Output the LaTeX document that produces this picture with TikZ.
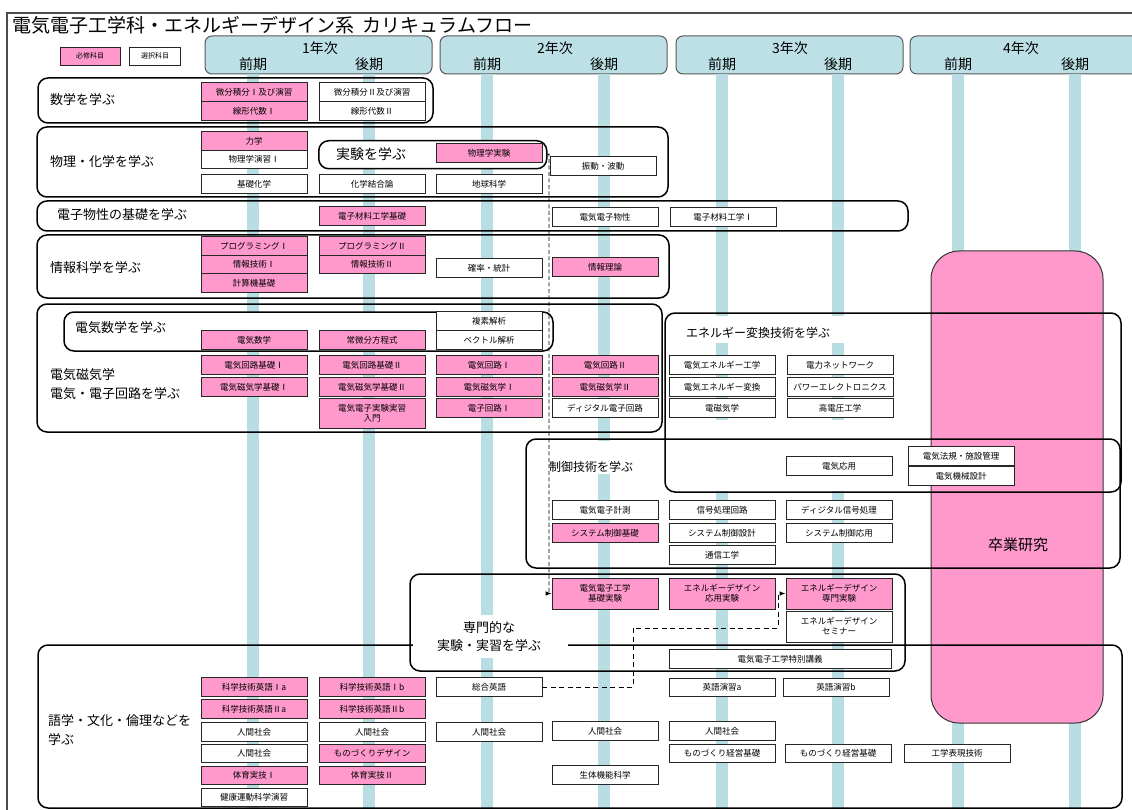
\documentclass[tikz,border=0pt]{standalone}
\usepackage{fontspec}
\setmainfont{Noto Sans CJK JP}
\usetikzlibrary{arrows.meta}
\definecolor{pinkc}{HTML}{FF99CC}
\definecolor{barc}{HTML}{B8DDE2}
\definecolor{headc}{HTML}{BCE0E5}
\begin{document}
\begin{tikzpicture}[x=1pt,y=-1pt,
  course/.style={draw=black!85, line width=0.7pt, minimum width=106pt, minimum height=18.5pt, inner sep=0pt, font=\fontsize{8.5}{10}\selectfont, align=center},
  req/.style={course, fill=pinkc},
  opt/.style={course, fill=white},
  region/.style={draw=black, line width=1.5pt, rounded corners=10pt},
  rlabel/.style={font=\fontsize{13}{19}\selectfont, anchor=west, inner sep=0pt, align=left},
  bar/.style={fill=barc, draw=none},
  head/.style={draw=black!65, fill=headc, line width=1pt, rounded corners=7pt},
  htext/.style={font=\fontsize{14}{16}\selectfont, inner sep=0pt},
  mask/.style={fill=white, draw=none},
  flow/.style={dash pattern=on 4pt off 2.5pt, line width=0.8pt, -{Latex[length=6pt,width=4.5pt]}}
]
\useasboundingbox (0,0) rectangle (1132,810);
\begin{scope}
\clip (0,0) rectangle (1132,810);
% frame and title
\draw[line width=1.2pt, black!70] (7,812) -- (7,13) -- (1134,13);
\node[anchor=west, inner sep=0pt, font=\fontsize{19}{22}\selectfont] (title) at (12,25) {電気電子工学科・エネルギーデザイン系\ \ カリキュラムフロー};
% legend
\node[req, minimum width=60pt, minimum height=18pt, font=\fontsize{7}{8}\selectfont] (lreq) at (90,56) {必修科目};
\node[opt, minimum width=51pt, minimum height=18pt, font=\fontsize{7}{8}\selectfont] (lopt) at (155,56) {選択科目};
% year headers
\draw[head] (205,36) rectangle (432,74);
\draw[head] (440,36) rectangle (667,74);
\draw[head] (676,36) rectangle (903,74);
\draw[head] (910,36) rectangle (1145,74);
\node[htext] (y1) at (320,48) {1年次};
\node[htext] (y2) at (555,48) {2年次};
\node[htext] (y3) at (790,48) {3年次};
\node[htext] (y4) at (1021,48) {4年次};
\node[htext] (s1) at (253,64) {前期};
\node[htext] (s2) at (369,64) {後期};
\node[htext] (s3) at (487,64) {前期};
\node[htext] (s4) at (604,64) {後期};
\node[htext] (s5) at (722,64) {前期};
\node[htext] (s6) at (838,64) {後期};
\node[htext] (s7) at (958,64) {前期};
\node[htext] (s8) at (1075,64) {後期};
% bars
\foreach \c in {253,369,487,604,722,838,958,1075}{
  \fill[bar] (\c-6,74) rectangle (\c+6,808);
}
% graduation research
\draw[fill=pinkc, draw=black!80, line width=1pt, rounded corners=28pt] (931,251) rectangle (1103,723);
\node[font=\fontsize{15}{17}\selectfont, inner sep=0pt] (sotsu) at (1018,545) {卒業研究};
% masks for label areas
\fill[mask] (668,316) rectangle (905,343);
\fill[mask] (667,420) rectangle (905,491);
\fill[mask] (529,441) rectangle (660,474);
% regions
\draw[region] (38,78) rectangle (433,123);
\draw[region] (37,127) rectangle (668,197);
\draw[region] (37,201) rectangle (908,231);
\draw[region] (37,235) rectangle (669,298);
\draw[region] (37,304) rectangle (662,432);
\draw[region, fill=white] (64,312) rectangle (553,351);
\draw[region] (665,313) rectangle (1121,492);
\draw[region] (526,439) rectangle (1120,568);
\draw[region] (38,645) rectangle (1122,808);
\fill[mask] (413,615) rectangle (568,658);
\draw[region] (410,574) rectangle (905,671);
\node[region, fill=white, anchor=north west, minimum width=228pt, minimum height=28pt, inner sep=0pt] (jikkenbox) at (318,140) {};
% region labels
\node[rlabel] (lsugaku) at (50,100) {数学を学ぶ};
\node[rlabel] (lbutsuri) at (50,162) {物理・化学を学ぶ};
\node[rlabel, font=\fontsize{14}{16}\selectfont] (ljikken) at (336,154) {実験を学ぶ};
\node[rlabel] (lbussei) at (57,215) {電子物性の基礎を学ぶ};
\node[rlabel] (ljoho) at (50,268) {情報科学を学ぶ};
\node[rlabel] (ldensu) at (75,328) {電気数学を学ぶ};
\node[rlabel] (ldenki) at (50,384) {電気磁気学\\電気・電子回路を学ぶ};
\node[rlabel, font=\fontsize{12}{14}\selectfont] (lene) at (686,333) {エネルギー変換技術を学ぶ};
\node[rlabel, font=\fontsize{12}{14}\selectfont] (lseigyo) at (549,467) {制御技術を学ぶ};
\node[font=\fontsize{13}{18}\selectfont, inner sep=0pt, align=center] (lsenmon) at (489,637) {専門的な\\実験・実習を学ぶ};
\node[rlabel] (lgogaku) at (48,730) {語学・文化・倫理などを\\学ぶ};
% math
\node[req] (m1) at (254,92) {微分積分Ⅰ及び演習};
\node[opt] (m2) at (372,92) {微分積分Ⅱ及び演習};
\node[req] (m3) at (254,111) {線形代数Ⅰ};
\node[opt] (m4) at (372,111) {線形代数Ⅱ};
% physics
\node[req] (p1) at (254,141) {力学};
\node[opt] (p2) at (254,159.5) {物理学演習Ⅰ};
\node[opt] (p3) at (254,184) {基礎化学};
\node[opt] (p4) at (372,184) {化学結合論};
\node[opt] (p5) at (489,184) {地球科学};
\node[req] (p6) at (489,153) {物理学実験};
\node[opt] (p7) at (603,166) {振動・波動};
% bussei
\node[req] (b1) at (372,216) {電子材料工学基礎};
\node[opt] (b2) at (605,217) {電気電子物性};
\node[opt] (b3) at (723,217) {電子材料工学Ⅰ};
% joho
\node[req] (j1) at (254,246) {プログラミングⅠ};
\node[req] (j2) at (254,264.5) {情報技術Ⅰ};
\node[req] (j3) at (254,283) {計算機基礎};
\node[req] (j4) at (372,246) {プログラミングⅡ};
\node[req] (j5) at (372,264.5) {情報技術Ⅱ};
\node[opt] (j6) at (489,268) {確率・統計};
\node[req] (j7) at (605,267) {情報理論};
% denki math
\node[req] (d1) at (254,340) {電気数学};
\node[req] (d2) at (372,340) {常微分方程式};
\node[opt] (d3) at (489,321) {複素解析};
\node[opt] (d4) at (489,340) {ベクトル解析};
% circuits
\node[req] (c1) at (254,365) {電気回路基礎Ⅰ};
\node[req] (c2) at (254,387) {電気磁気学基礎Ⅰ};
\node[req] (c3) at (372,365) {電気回路基礎Ⅱ};
\node[req] (c4) at (372,387) {電気磁気学基礎Ⅱ};
\node[req, minimum height=30pt] (c5) at (372,413) {電気電子実験実習\\入門};
\node[req] (c6) at (489,365) {電気回路Ⅰ};
\node[req] (c7) at (489,387) {電気磁気学Ⅰ};
\node[req] (c8) at (489,408) {電子回路Ⅰ};
\node[req] (c9) at (605,365) {電気回路Ⅱ};
\node[req] (c10) at (605,387) {電気磁気学Ⅱ};
\node[opt] (c11) at (605,408) {ディジタル電子回路};
% energy
\node[opt] (e1) at (722,365) {電気エネルギー工学};
\node[opt] (e2) at (722,387) {電気エネルギー変換};
\node[opt] (e3) at (722,408) {電磁気学};
\node[opt] (e4) at (840,365) {電力ネットワーク};
\node[opt] (e5) at (840,387) {パワーエレクトロニクス};
\node[opt] (e6) at (840,408) {高電圧工学};
% control
\node[opt] (k1) at (839,466) {電気応用};
\node[opt] (k2) at (961,456) {電気法規・施設管理};
\node[opt] (k3) at (961,476) {電気機械設計};
\node[opt] (k4) at (605,510) {電気電子計測};
\node[req] (k5) at (605,533) {システム制御基礎};
\node[opt] (k6) at (722,510) {信号処理回路};
\node[opt] (k7) at (722,533) {システム制御設計};
\node[opt] (k8) at (722,555) {通信工学};
\node[opt] (k9) at (839,510) {ディジタル信号処理};
\node[opt] (k10) at (839,533) {システム制御応用};
% experiments
\node[req, minimum height=31pt] (x1) at (605,593.5) {電気電子工学\\基礎実験};
\node[req, minimum height=31pt] (x2) at (722,593.5) {エネルギーデザイン\\応用実験};
\node[req, minimum height=31pt] (x3) at (839,593.5) {エネルギーデザイン\\専門実験};
\node[opt, minimum height=31pt] (x4) at (839,626.5) {エネルギーデザイン\\セミナー};
\node[opt, minimum width=222pt] (x5) at (780,659) {電気電子工学特別講義};
% languages
\node[req] (g1) at (254,687) {科学技術英語Ⅰa};
\node[req] (g2) at (254,709) {科学技術英語Ⅱa};
\node[opt] (g3) at (254,732) {人間社会};
\node[opt] (g4) at (254,753.5) {人間社会};
\node[req] (g5) at (254,775.5) {体育実技Ⅰ};
\node[opt] (g6) at (254,797.5) {健康運動科学演習};
\node[req] (g7) at (372,687) {科学技術英語Ⅰb};
\node[req] (g8) at (372,709) {科学技術英語Ⅱb};
\node[opt] (g9) at (372,732) {人間社会};
\node[req] (g10) at (372,753.5) {ものづくりデザイン};
\node[req] (g11) at (372,775.5) {体育実技Ⅱ};
\node[opt] (g12) at (489,687) {総合英語};
\node[opt] (g13) at (489,732) {人間社会};
\node[opt] (g14) at (605,731) {人間社会};
\node[opt] (g15) at (605,775) {生体機能科学};
\node[opt] (g16) at (722,687.5) {英語演習a};
\node[opt] (g17) at (836,687.5) {英語演習b};
\node[opt] (g18) at (722,731) {人間社会};
\node[opt] (g19) at (722,753.5) {ものづくり経営基礎};
\node[opt] (g20) at (838,753.5) {ものづくり経営基礎};
\node[opt] (g21) at (957,753.5) {工学表現技術};
% dashed flows
\coordinate (f1) at (549,154);
\draw[flow] (jikkenbox.east) -- (f1) |- (x1.west);
\coordinate (f2) at (633,628);
\coordinate (f3) at (778,593.5);
\draw[flow, dash pattern=on 5pt off 3.5pt, line width=1pt] (g12.east) -| (f2) -| (f3) -- (x3.west);
\end{scope}
\end{tikzpicture}
\end{document}
